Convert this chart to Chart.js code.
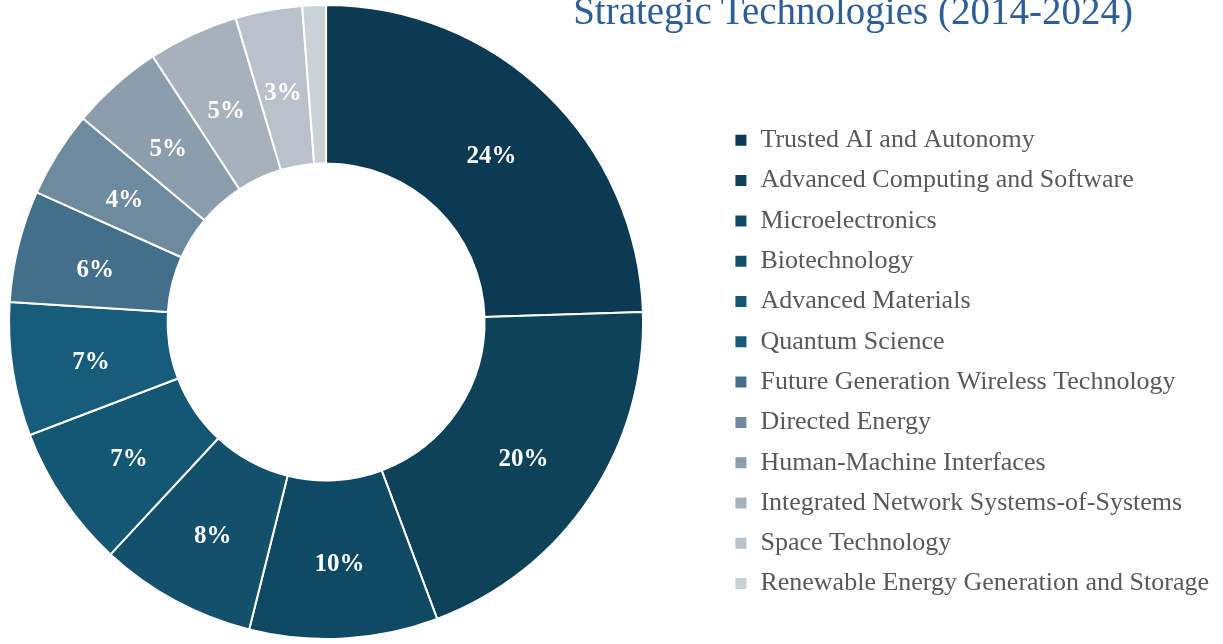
<!DOCTYPE html>
<html>
<head>
<meta charset="utf-8">
<script src="https://cdn.jsdelivr.net/npm/chart.js@4.4.1/dist/chart.umd.min.js"></script>
<style>
	body { margin: 0; background: #fff; }
	#wrap { position: relative; width: 1223px; height: 644px; overflow: hidden; }
	#myChart { position: absolute; left: -68px; top: 0; }
	#title {
		position: absolute; left: 553px; top: -9px; width: 600px;
		text-align: center; font-family: 'Liberation Serif', serif;
		font-size: 39px; line-height: 39px; color: #2d5e97; white-space: nowrap;
	}
</style>
</head>
<body>
<div id="wrap">
	<canvas id="myChart" width="1291" height="644"></canvas>
	<div id="title">Strategic Technologies (2014-2024)</div>
</div>
<script>
const labels = [
	'Trusted AI and Autonomy',
	'Advanced Computing and Software',
	'Microelectronics',
	'Biotechnology',
	'Advanced Materials',
	'Quantum Science',
	'Future Generation Wireless Technology',
	'Directed Energy',
	'Human-Machine Interfaces',
	'Integrated Network Systems-of-Systems',
	'Space Technology',
	'Renewable Energy Generation and Storage',
];
const shares = [24.5, 19.8, 9.6, 8.0, 7.3, 6.8, 5.7, 4.4, 4.7, 4.6, 3.4, 1.2];
const colors = [
	'#0b3a52', '#0d4259', '#0f4a64', '#12506c', '#145772', '#175c7b',
	'#446f8a', '#6e8a9e', '#8c9dac', '#a6b1bc', '#b9c1ca', '#cad2d8',
];

// percent labels in the middle of each slice
const sliceLabels = {
	id: 'sliceLabels',
	afterDatasetsDraw(chart) {
		const ctx = chart.ctx;
		const meta = chart.getDatasetMeta(0);
		const total = shares.reduce((a, b) => a + b, 0);
		ctx.save();
		ctx.fillStyle = '#ffffff';
		ctx.font = 'bold 25px "Liberation Serif", serif';
		ctx.textAlign = 'center';
		ctx.textBaseline = 'middle';
		meta.data.forEach((arc, i) => {
			const pct = (shares[i] / total) * 100;
			if (pct < 2) return;
			const pos = arc.tooltipPosition();
			ctx.fillText(Math.round(pct) + '%', pos.x, pos.y + 5);
		});
		ctx.restore();
	},
};

const ctx = document.getElementById('myChart').getContext('2d');
const myChart = new Chart(ctx, {
	type: 'doughnut',
	data: {
		labels: labels,
		datasets: [
			{
				data: shares,
				backgroundColor: colors,
				borderColor: '#ffffff',
				borderWidth: 2,
			},
		],
	},
	options: {
		responsive: false,
		animation: false,
		cutout: '50%',
		layout: { padding: { left: 0, right: 4, top: 4, bottom: 4 } },
		plugins: {
			tooltip: { enabled: false },
			legend: {
				position: 'right',
				align: 'start',
				title: {
					display: true,
					text: '',
					padding: 0,
					font: { size: 109, lineHeight: 1 },
				},
				labels: {
					boxWidth: 13,
					boxHeight: 13,
					padding: 14.3,
					color: '#595959',
					font: { family: "'Liberation Serif', serif", size: 26 },
				},
			},
		},
	},
	plugins: [sliceLabels],
});
</script>
</body>
</html>
